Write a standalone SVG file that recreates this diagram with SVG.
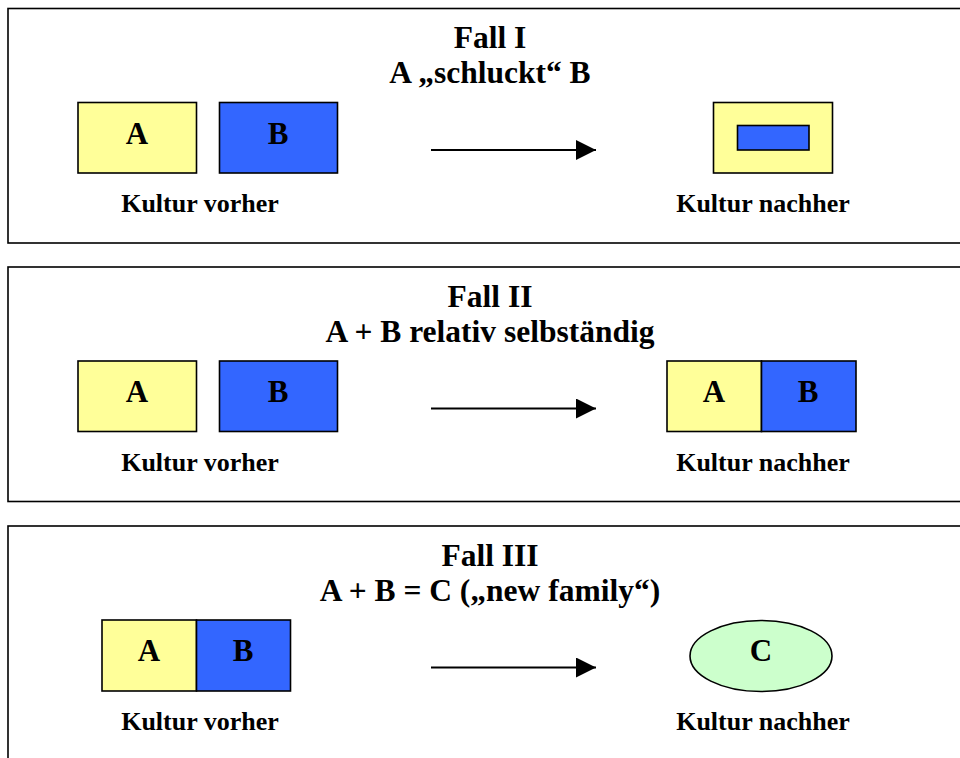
<svg xmlns="http://www.w3.org/2000/svg" width="960" height="758" viewBox="0 0 960 758">
  <style>
    .frame { fill: #ffffff; stroke: #000000; stroke-width: 1.6; }
    .box { stroke: #000000; stroke-width: 1.6; }
    .ya { fill: #ffff99; }
    .bb { fill: #3366ff; }
    .gc { fill: #ccffcc; }
    text { font-family: "Liberation Serif", "Times New Roman", serif; font-weight: bold; fill: #000000; text-anchor: middle; }
    .title { font-size: 31.5px; }
    .lbl { font-size: 31px; }
    .cap { font-size: 26px; }
    .conn { stroke: #000000; stroke-width: 2; fill: none; }
  </style>
  <defs>
    <marker id="head" markerUnits="userSpaceOnUse" markerWidth="22" markerHeight="22" refX="20" refY="10" orient="auto">
      <path d="M0,0 L20,10 L0,20 Z" fill="#000000"/>
    </marker>
  </defs>

  <rect width="960" height="758" fill="#ffffff"/>

  <!-- Case I -->
  <g id="fall1">
    <rect class="frame" x="8" y="8.5" width="970" height="234.5"/>
    <text class="title" x="490" y="48">Fall I</text>
    <text class="title" x="490" y="83">A „schluckt“ B</text>
    <g id="f1-a">
      <rect class="box ya" x="78" y="102.5" width="118.5" height="70.5"/>
      <text class="lbl" x="137" y="143.5">A</text>
    </g>
    <g id="f1-b">
      <rect class="box bb" x="219.5" y="102.5" width="118" height="70.5"/>
      <text class="lbl" x="278" y="143.5">B</text>
    </g>
    <text class="cap" x="200" y="212">Kultur vorher</text>
    <g id="f1-after">
      <rect class="box ya" x="713.5" y="102.5" width="119" height="70.5"/>
      <rect class="box bb" x="737.5" y="125.5" width="71.5" height="24.5"/>
    </g>
    <text class="cap" x="763" y="212">Kultur nachher</text>
  </g>

  <!-- Case II -->
  <g id="fall2">
    <rect class="frame" x="8" y="267" width="970" height="234.5"/>
    <text class="title" x="490" y="306.5">Fall II</text>
    <text class="title" x="490" y="341.5">A + B relativ selbständig</text>
    <g id="f2-a">
      <rect class="box ya" x="78" y="361" width="118.5" height="70.5"/>
      <text class="lbl" x="137" y="402">A</text>
    </g>
    <g id="f2-b">
      <rect class="box bb" x="219.5" y="361" width="118" height="70.5"/>
      <text class="lbl" x="278" y="402">B</text>
    </g>
    <text class="cap" x="200" y="470.5">Kultur vorher</text>
    <g id="f2-after">
      <rect class="box ya" x="667" y="361" width="94.5" height="70.5"/>
      <rect class="box bb" x="761.5" y="361" width="94.5" height="70.5"/>
      <text class="lbl" x="714" y="402">A</text>
      <text class="lbl" x="808" y="402">B</text>
    </g>
    <text class="cap" x="763" y="470.5">Kultur nachher</text>
  </g>

  <!-- Case III -->
  <g id="fall3">
    <rect class="frame" x="8" y="526" width="970" height="260"/>
    <text class="title" x="490" y="565.5">Fall III</text>
    <text class="title" x="490" y="600.5">A + B = C („new family“)</text>
    <g id="f3-ab">
      <rect class="box ya" x="102" y="620" width="94.5" height="71"/>
      <rect class="box bb" x="196.5" y="620" width="94" height="71"/>
      <text class="lbl" x="149" y="661">A</text>
      <text class="lbl" x="243" y="661">B</text>
    </g>
    <text class="cap" x="200" y="729.5">Kultur vorher</text>
    <g id="f3-c">
      <ellipse class="box gc" cx="761" cy="656" rx="71" ry="35.5"/>
      <text class="lbl" x="761" y="661">C</text>
    </g>
    <text class="cap" x="763" y="729.5">Kultur nachher</text>
  </g>

  <g id="connectors">
    <line class="conn" x1="431" y1="150" x2="596" y2="150" marker-end="url(#head)"/>
    <line class="conn" x1="431" y1="408.5" x2="596" y2="408.5" marker-end="url(#head)"/>
    <line class="conn" x1="431" y1="667.5" x2="596" y2="667.5" marker-end="url(#head)"/>
  </g>
</svg>
